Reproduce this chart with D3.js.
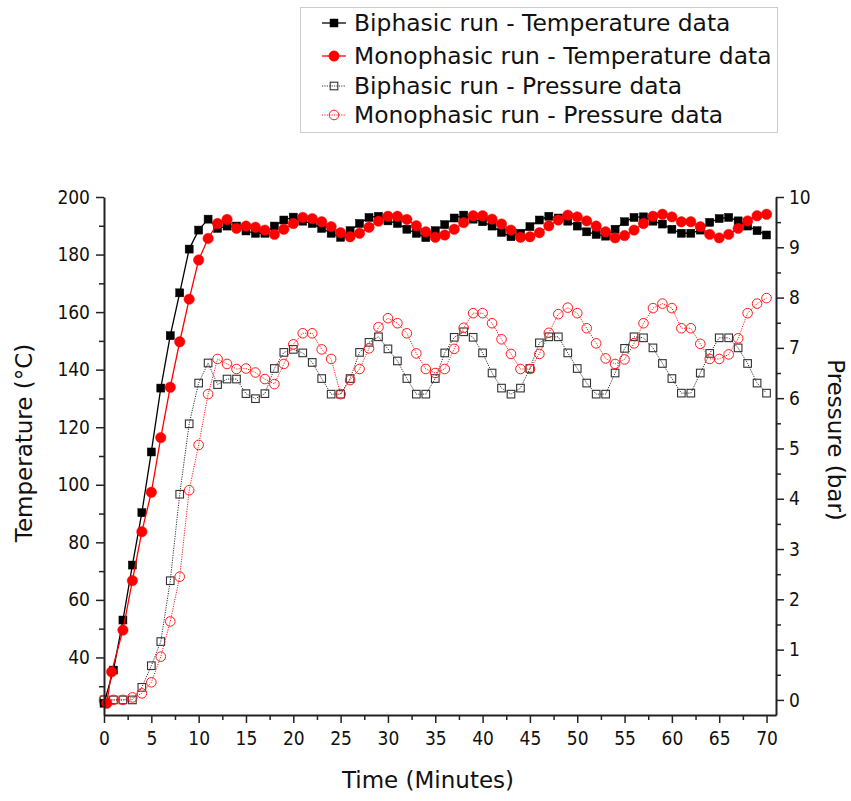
<html>
<head>
<script src="https://d3js.org/d3.v7.min.js"></script>
<style>
	body { margin: 0; background: #fff; }
	text { font-family: "DejaVu Sans", sans-serif; fill: #111; }
</style>
</head>
<body>
<div class="svg-container"></div>
<script>
// time in minutes (shared by most series)
var minutes = [0,1,2,3,4,5,6,7,8,9,10,11,12,13,14,15,16,17,18,19,20,21,22,23,24,25,26,27,28,29,30,
	31,32,33,34,35,36,37,38,39,40,41,42,43,44,45,46,47,48,49,50,51,52,53,54,55,56,57,58,59,60,
	61,62,63,64,65,66,67,68,69,70];
// the monophasic temperature log starts a little later
var monoTempMinutes = [0.3,0.8,2,3,4,5,6,7,8,9,10,11,12,13,14,15,16,17,18,19,20,21,22,23,24,25,26,27,28,29,30,
	31,32,33,34,35,36,37,38,39,40,41,42,43,44,45,46,47,48,49,50,51,52,53,54,55,56,57,58,59,60,
	61,62,63,64,65,66,67,68,69,70];

var biTemp = [24.1,35.6,53.0,72.1,90.3,111.4,133.6,151.8,166.7,181.9,188.5,192.3,189.1,189.9,189.9,188.2,
	187.4,187.4,189.9,192.0,193.0,191.6,190.8,189.1,187.4,186.0,188.3,190.8,192.9,193.3,191.7,190.8,188.8,
	187.4,185.9,188.3,190.4,192.7,193.7,192.3,191.4,189.9,187.7,186.2,187.4,189.7,192.0,193.3,192.7,191.6,
	189.9,187.9,187.0,186.4,188.8,191.4,192.9,193.1,191.6,190.6,188.8,187.4,187.4,188.5,191.2,192.5,192.9,
	191.7,189.9,188.3,186.8];
var monoTemp = [24.1,35.0,49.5,66.7,83.7,97.4,116.4,133.9,149.7,164.5,178.1,185.6,190.8,192.2,189.1,189.9,
	189.5,188.5,187.0,188.8,190.8,192.9,192.5,191.4,189.7,187.6,186.2,187.4,189.5,191.6,193.3,193.3,192.2,
	190.0,187.9,186.0,186.8,188.8,191.1,193.5,193.5,192.3,190.6,188.5,186.0,186.2,187.6,190.0,192.0,193.7,
	193.1,191.7,189.9,187.9,185.8,186.6,188.5,190.8,193.3,194.0,193.1,191.4,191.4,189.7,187.0,185.8,187.0,
	189.1,191.7,193.5,194.0];
var biPress = [0,0,0,0,0.25,0.68,1.16,2.37,4.09,5.49,6.30,6.70,6.27,6.38,6.38,6.09,5.99,6.09,6.59,6.91,6.97,
	6.90,6.71,6.39,6.08,6.08,6.39,6.91,7.11,7.22,6.98,6.74,6.39,6.08,6.08,6.39,6.90,7.21,7.32,7.21,6.90,
	6.50,6.20,6.08,6.20,6.59,7.10,7.22,7.22,6.90,6.59,6.30,6.08,6.08,6.50,6.99,7.22,7.20,7.00,6.69,6.39,
	6.10,6.10,6.50,6.89,7.20,7.20,7.00,6.69,6.30,6.10];
var monoPress = [0,0,0,0.05,0.13,0.35,0.86,1.56,2.45,4.17,5.07,6.08,6.78,6.68,6.58,6.59,6.51,6.38,6.28,6.68,
	7.07,7.29,7.29,6.97,6.78,6.08,6.36,6.58,6.99,7.41,7.59,7.49,7.29,6.89,6.58,6.50,6.58,6.98,7.40,7.69,
	7.69,7.49,7.17,6.88,6.58,6.58,6.88,7.30,7.67,7.80,7.69,7.39,7.09,6.79,6.68,6.77,7.09,7.49,7.79,7.88,
	7.79,7.39,7.39,7.08,6.78,6.78,6.87,7.19,7.69,7.88,7.99];

var legendLabels = ['Biphasic run - Temperature data','Monophasic run - Temperature data',
	'Biphasic run - Pressure data','Monophasic run - Pressure data'];

var timeTicks = [0,5,10,15,20,25,30,35,40,45,50,55,60,65,70];
var timeMinor = [2.5,7.5,12.5,17.5,22.5,27.5,32.5,37.5,42.5,47.5,52.5,57.5,62.5,67.5];
var tempTicks = [40,60,80,100,120,140,160,180,200];
var tempMinor = [30,50,70,90,110,130,150,170,190];
var pressTicks = [0,1,2,3,4,5,6,7,8,9,10];
var pressMinor = [0.5,1.5,2.5,3.5,4.5,5.5,6.5,7.5,8.5,9.5];

var w = 851, h = 801;
var pLeft = 104, pRight = 776, pTop = 197, pBottom = 715;

var x = d3.scaleLinear().domain([0,71]).range([pLeft,pRight]);
var yT = d3.scaleLinear().domain([20,200]).range([pBottom,pTop]);
var yP = d3.scaleLinear().domain([-0.3,10]).range([pBottom,pTop]);

var svg = d3.select('.svg-container').append('svg').attr('width',w).attr('height',h);

function zip(ts, vs){ return ts.map(function(t,i){ return [t, vs[i]]; }); }

var series = [
	{ data: zip(minutes, biPress), y: yP, color: '#333', marker: 'square', filled: false, dotted: true },
	{ data: zip(minutes, monoPress), y: yP, color: '#ff1a1a', marker: 'circle', filled: false, dotted: true },
	{ data: zip(minutes, biTemp), y: yT, color: '#000', marker: 'square', filled: true, dotted: false },
	{ data: zip(monoTempMinutes, monoTemp), y: yT, color: '#ff0000', marker: 'circle', filled: true, dotted: false }
];

function drawMarker(g, kind, filled, color){
	if (kind === 'square') {
		var s = filled ? 8 : 7.6;
		g.append('rect').attr('x',-s/2).attr('y',-s/2).attr('width',s).attr('height',s)
			.attr('fill', filled ? color : 'none').attr('stroke', color).attr('stroke-width', filled ? 0.5 : 1.1);
	} else {
		g.append('circle').attr('r', filled ? 5.2 : 4.8)
			.attr('fill', filled ? color : 'none').attr('stroke', color).attr('stroke-width', filled ? 0.5 : 1);
	}
}

series.forEach(function(s){
	var line = d3.line().x(function(d){ return x(d[0]); }).y(function(d){ return s.y(d[1]); });
	svg.append('path').attr('d', line(s.data)).attr('fill','none').attr('stroke', s.color)
		.attr('stroke-width', s.dotted ? 1 : 1.3).attr('stroke-dasharray', s.dotted ? '1.2,1.2' : null);
	s.data.forEach(function(d){
		var g = svg.append('g').attr('transform','translate(' + x(d[0]) + ',' + s.y(d[1]) + ')');
		drawMarker(g, s.marker, s.filled, s.color);
	});
});

//Axis
function styleAxis(g){
	g.attr('font-family','"DejaVu Sans Condensed", "DejaVu Sans"').attr('font-size',19);
	g.select('.domain').attr('stroke','#222').attr('stroke-width',2);
	g.selectAll('.tick line').attr('stroke','#222').attr('stroke-width',1.5);
	g.selectAll('.tick text').attr('fill','#111').style('font-family','"DejaVu Sans Condensed", "DejaVu Sans"');
}
function minorAxis(g){
	g.select('.domain').remove();
	g.selectAll('.tick line').attr('stroke','#222').attr('stroke-width',1.5);
}

svg.append('g').attr('transform','translate(0,' + pBottom + ')')
	.call(d3.axisBottom(x).tickValues(timeTicks).tickSize(8).tickSizeOuter(0).tickPadding(9)).call(styleAxis);
svg.append('g').attr('transform','translate(0,' + pBottom + ')')
	.call(d3.axisBottom(x).tickValues(timeMinor).tickSize(5).tickFormat('')).call(minorAxis);

svg.append('g').attr('transform','translate(' + pLeft + ',0)')
	.call(d3.axisLeft(yT).tickValues(tempTicks).tickSize(8).tickSizeOuter(0).tickPadding(6)).call(styleAxis);
svg.append('g').attr('transform','translate(' + pLeft + ',0)')
	.call(d3.axisLeft(yT).tickValues(tempMinor).tickSize(5).tickFormat('')).call(minorAxis);

svg.append('g').attr('transform','translate(' + pRight + ',0)')
	.call(d3.axisRight(yP).tickValues(pressTicks).tickSize(8).tickSizeOuter(0).tickPadding(5)).call(styleAxis);
svg.append('g').attr('transform','translate(' + pRight + ',0)')
	.call(d3.axisRight(yP).tickValues(pressMinor).tickSize(5).tickFormat('')).call(minorAxis);

// titles
svg.append('text').attr('x',(pLeft+pRight)/2 - 12).attr('y',788).attr('text-anchor','middle')
	.attr('font-size',23).text('Time (Minutes)');
svg.append('text').attr('transform','translate(32,443) rotate(-90)').attr('text-anchor','middle')
	.attr('font-size',23).text('Temperature (°C)');
svg.append('text').attr('transform','translate(828,440) rotate(90)').attr('text-anchor','middle')
	.attr('font-size',23).text('Pressure (bar)');

// legend
svg.append('rect').attr('x',300.5).attr('y',7.5).attr('width',477).attr('height',125)
	.attr('fill','none').attr('stroke','#999').attr('stroke-dasharray','1,1');
var legendY = [23, 56, 86, 115];
var legendOrder = [2, 3, 0, 1];
legendLabels.forEach(function(label, i){
	var s = series[legendOrder[i]];
	var yy = legendY[i];
	svg.append('line').attr('x1',322).attr('x2',346).attr('y1',yy).attr('y2',yy)
		.attr('stroke', s.color).attr('stroke-width', s.dotted ? 1 : 1.3)
		.attr('stroke-dasharray', s.dotted ? '1.2,1.2' : null);
	var g = svg.append('g').attr('transform','translate(334,' + yy + ')');
	drawMarker(g, s.marker, s.filled, s.color);
	svg.append('text').attr('x',354).attr('y',yy + 8).attr('font-size',23.4).text(label);
});
</script>
</body>
</html>
